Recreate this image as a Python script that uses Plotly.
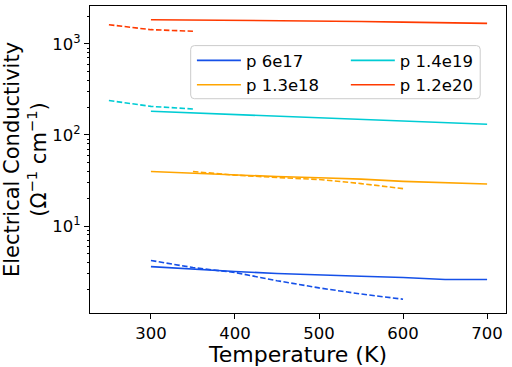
import plotly.graph_objects as go

# ---- data ----
T_solid = [300, 350, 400, 450, 500, 550, 600, 650, 700]
blue_solid = [3.6, 3.36, 3.18, 3.02, 2.94, 2.82, 2.73, 2.6, 2.6]
orange_solid = [39.7, 38.0, 36.3, 35.0, 34.0, 32.8, 31.0, 30.0, 29.0]
cyan_solid = [182, 175, 168, 161, 154, 148, 142, 136, 131]
red_solid = [1840, 1830, 1815, 1800, 1780, 1760, 1730, 1700, 1675]

T_blue_dash = [300, 350, 400, 450, 500, 550, 600]
blue_dash = [4.2, 3.51, 3.1, 2.52, 2.1, 1.8, 1.58]
T_orange_dash = [350, 400, 450, 500, 550, 600]
orange_dash = [39.7, 36.3, 34.2, 32.5, 29.3, 25.8]
T_low_dash = [250, 300, 350]
cyan_dash = [239, 206, 193]
red_dash = [1620, 1430, 1375]

labels = ["p 6e17", "p 1.3e18", "p 1.4e19", "p 1.2e20"]
colors = ["#1550e8", "#ffa500", "#00ccd4", "#ff3a00"]

y_tickvals = [10, 100, 1000]
y_ticktext = ["10<sup>1</sup>", "10<sup>2</sup>", "10<sup>3</sup>"]
minor_vals = [m * 10 ** e for e in range(0, 4) for m in range(2, 10)]

FONT = "DejaVu Sans"
fig = go.Figure()

solids = [blue_solid, orange_solid, cyan_solid, red_solid]
legs = ["legend", "legend", "legend2", "legend2"]
for lab, col, ys, lg in zip(labels, colors, solids, legs):
    fig.add_trace(go.Scatter(x=T_solid, y=ys, mode="lines", name=lab,
                             line=dict(color=col, width=1.6), legend=lg))

dashes = [(T_blue_dash, blue_dash, colors[0]), (T_orange_dash, orange_dash, colors[1]),
          (T_low_dash, cyan_dash, colors[2]), (T_low_dash, red_dash, colors[3])]
for xs, ys, col in dashes:
    fig.add_trace(go.Scatter(x=xs, y=ys, mode="lines", showlegend=False,
                             line=dict(color=col, width=1.6, dash="5.5px,2.4px")))

# legend frame (rounded rectangle) in paper coords
x0, x1, y0, y1 = 0.242, 0.938, 0.698, 0.871
rx, ry = 0.009, 0.012
path = (f"M{x0+rx},{y0} L{x1-rx},{y0} Q{x1},{y0} {x1},{y0+ry} L{x1},{y1-ry} "
        f"Q{x1},{y1} {x1-rx},{y1} L{x0+rx},{y1} Q{x0},{y1} {x0},{y1-ry} "
        f"L{x0},{y0+ry} Q{x0},{y0} {x0+rx},{y0} Z")
fig.add_shape(type="path", path=path, xref="paper", yref="paper",
              line=dict(color="#cccccc", width=1), fillcolor="rgba(255,255,255,0.8)",
              layer="above")

leg_common = dict(bgcolor="rgba(0,0,0,0)", borderwidth=0, font=dict(family=FONT, size=16.5, color="black"),
                  yanchor="top", xanchor="left", tracegroupgap=0, itemwidth=44)
fig.update_layout(
    width=512, height=367,
    margin=dict(l=90, r=5, t=5, b=51),
    paper_bgcolor="white", plot_bgcolor="white",
    font=dict(family=FONT, color="black"),
    legend=dict(x=0.245, y=0.879, **leg_common),
    legend2=dict(x=0.615, y=0.879, **leg_common),
)
fig.update_xaxes(range=[227.5, 722.5], tickvals=[300, 400, 500, 600, 700],
                 ticks="outside", ticklen=5, tickcolor="black", showline=True, linecolor="black",
                 linewidth=1, mirror=True, showgrid=False, zeroline=False,
                 tickfont=dict(family=FONT, size=16.5, color="black"),
                 title=dict(text="Temperature (K)", font=dict(family=FONT, size=22), standoff=4))
fig.update_yaxes(type="log", range=[0.047, 3.415], tickvals=y_tickvals, ticktext=y_ticktext,
                 ticks="outside", ticklen=5, tickcolor="black", showline=True, linecolor="black",
                 linewidth=1, mirror=True, showgrid=False, zeroline=False,
                 minor=dict(ticks="outside", ticklen=2.5, tickcolor="black", tickvals=minor_vals, showgrid=False),
                 tickfont=dict(family=FONT, size=16.5, color="black"),
                 title=dict(text="Electrical Conductivity<br>(Ω<sup>−1</sup> cm<sup>−1</sup>)",
                            font=dict(family=FONT, size=21), standoff=4))
fig.write_html("out.html", post_script="document.body.style.margin='0';",
               config={"displayModeBar": False})
